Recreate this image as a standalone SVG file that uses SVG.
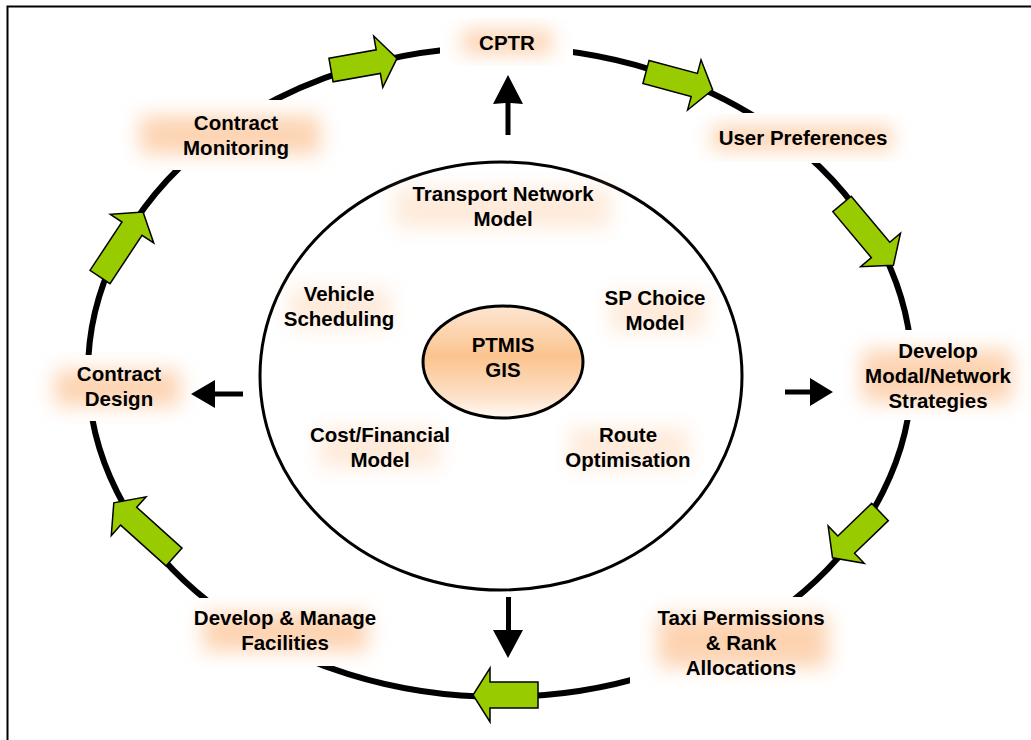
<svg xmlns="http://www.w3.org/2000/svg" width="1031" height="740" viewBox="0 0 1031 740">
<defs>
<style>
.lbl{font-family:"Liberation Sans",Arial,sans-serif;font-weight:bold;font-size:20.5px;fill:#000;text-anchor:middle}
.ring{fill:none;stroke:#000;stroke-width:6}
.inner{fill:none;stroke:#000;stroke-width:3}
.garrow{fill:#99cc00;stroke:#000;stroke-width:1.5;stroke-linejoin:miter}
.barrow{fill:#000}
.bg{fill:#fff}
.glow{fill:#fcc597;filter:url(#blur);opacity:0.75}
.glow2{fill:#fcc597;filter:url(#blur);opacity:0.35}
</style>
<filter id="blur" x="-50%" y="-50%" width="200%" height="200%"><feGaussianBlur stdDeviation="10"/></filter>
<linearGradient id="core" x1="0" y1="0" x2="0" y2="1">
<stop offset="0" stop-color="#fde6d2"/>
<stop offset="0.45" stop-color="#fbc48e"/>
<stop offset="0.8" stop-color="#fde0c6"/>
<stop offset="1" stop-color="#fffaf5"/>
</linearGradient>
</defs>
<rect x="7.5" y="6.5" width="1030" height="740" fill="#fff" stroke="#000" stroke-width="2"/>

<g id="outer-ring"><ellipse class="ring" cx="500" cy="372" rx="412" ry="325"/></g>
<g id="inner-ring"><ellipse class="inner" cx="501" cy="376" rx="241" ry="214"/></g>

<g id="n-cptr"><rect class="bg" x="440" y="18" width="133" height="46"/><rect class="glow" x="462" y="30" width="90" height="24"/><text class="lbl" x="507" y="50">CPTR</text></g>
<g id="n-user"><rect class="bg" x="685" y="113" width="232" height="50"/><rect class="glow" x="712" y="126" width="180" height="24"/><text class="lbl" x="803" y="145">User Preferences</text></g>
<g id="n-modal"><rect class="bg" x="834" y="330" width="197" height="90"/><rect class="glow" x="862" y="350" width="150" height="52"/><text class="lbl" x="938" y="358">Develop<tspan x="938" dy="25">Modal/Network</tspan><tspan x="938" dy="25">Strategies</tspan></text></g>
<g id="n-taxi"><rect class="bg" x="630" y="597" width="225" height="88"/><rect class="glow" x="658" y="615" width="170" height="52"/><text class="lbl" x="741" y="625">Taxi Permissions<tspan x="741" dy="25">&amp; Rank</tspan><tspan x="741" dy="25">Allocations</tspan></text></g>
<g id="n-facilities"><rect class="bg" x="175" y="598" width="225" height="68"/><rect class="glow" x="203" y="613" width="165" height="38"/><text class="lbl" x="285" y="625">Develop &amp; Manage<tspan x="285" dy="25">Facilities</tspan></text></g>
<g id="n-design"><rect class="bg" x="30" y="355" width="158" height="66"/><rect class="glow" x="55" y="370" width="125" height="36"/><text class="lbl" x="119" y="381">Contract<tspan x="119" dy="25">Design</tspan></text></g>
<g id="n-monitoring"><rect class="bg" x="113" y="100" width="230" height="70"/><rect class="glow" x="140" y="116" width="180" height="38"/><text class="lbl" x="236" y="130">Contract<tspan x="236" dy="25">Monitoring</tspan></text></g>

<g id="n-transport"><rect class="glow2" x="395" y="188" width="215" height="40"/><text class="lbl" x="503" y="201">Transport Network<tspan x="503" dy="25">Model</tspan></text></g>
<g id="n-vehicle"><rect class="glow2" x="290" y="288" width="100" height="40"/><text class="lbl" x="339" y="301">Vehicle<tspan x="339" dy="25">Scheduling</tspan></text></g>
<g id="n-sp"><rect class="glow2" x="610" y="292" width="95" height="40"/><text class="lbl" x="655" y="305">SP Choice<tspan x="655" dy="25">Model</tspan></text></g>
<g id="n-cost"><rect class="glow2" x="320" y="428" width="120" height="40"/><text class="lbl" x="380" y="442">Cost/Financial<tspan x="380" dy="25">Model</tspan></text></g>
<g id="n-route"><rect class="glow2" x="570" y="428" width="118" height="40"/><text class="lbl" x="628" y="442">Route<tspan x="628" dy="25">Optimisation</tspan></text></g>
<g id="n-ptmis"><ellipse cx="503" cy="362" rx="80" ry="56" fill="url(#core)" stroke="#000" stroke-width="3"/><text class="lbl" x="503" y="352">PTMIS<tspan x="503" dy="25">GIS</tspan></text></g>

<g id="connectors">
<g transform="translate(331,70) rotate(-10)"><polygon class="garrow" points="0,-12 48,-12 48,-26 67,0 48,26 48,12 0,12"/></g>
<g transform="translate(646,72) rotate(15)"><polygon class="garrow" points="0,-12 50,-12 50,-26 69,0 50,26 50,12 0,12"/></g>
<g transform="translate(842,204) rotate(50)"><polygon class="garrow" points="0,-12 60,-12 60,-26 80,0 60,26 60,12 0,12"/></g>
<g transform="translate(880,512) rotate(136)"><polygon class="garrow" points="0,-12 47,-12 47,-26 66,0 47,26 47,12 0,12"/></g>
<g transform="translate(538,695) rotate(180)"><polygon class="garrow" points="0,-13 48,-13 48,-27 65,0 48,27 48,13 0,13"/></g>
<g transform="translate(174,557) rotate(222)"><polygon class="garrow" points="0,-12 61,-12 61,-26 81,0 61,26 61,12 0,12"/></g>
<g transform="translate(100,277) rotate(-56.5)"><polygon class="garrow" points="0,-12 58,-12 58,-26 78,0 58,26 58,12 0,12"/></g>
<path class="barrow" d="M505.5,135 L505.5,103 L493,104 L508,75 L523,104 L510.5,103 L510.5,135 Z"/>
<path class="barrow" d="M506,597 L511,597 L511,630 L523,630 L508,658 L493,630 L506,630 Z"/>
<path class="barrow" d="M243,391.5 L215,391.5 L215,380 L191,394 L215,408 L215,396.5 L243,396.5 Z"/>
<path class="barrow" d="M785,389.5 L810,389.5 L810,378 L833,392 L810,406 L810,394.5 L785,394.5 Z"/>
</g>
</svg>
